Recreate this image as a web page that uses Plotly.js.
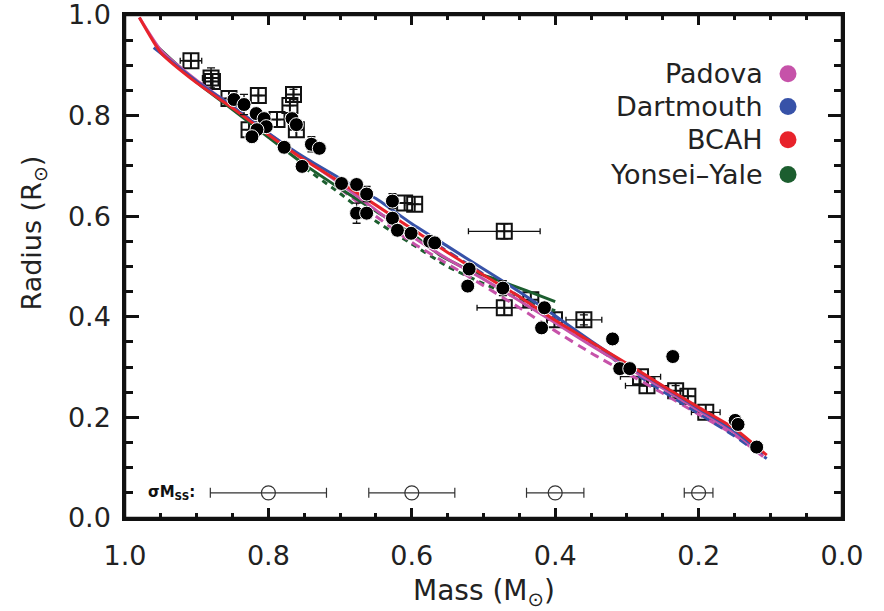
<!DOCTYPE html>
<html>
<head>
<meta charset="utf-8">
<script src="https://cdn.plot.ly/plotly-3.0.1.min.js"></script>
<style>
  html, body { margin: 0; padding: 0; background: #fff; }
  #chart { width: 884px; height: 611px; }
</style>
</head>
<body>
<div id="chart"></div>
<script>
// Observed eclipsing-binary components: filled circles
const circMass = [0.848,0.834,0.817,0.806,0.803,0.816,0.823,0.767,0.761,0.778,0.740,0.729,0.753,0.698,0.677,0.663,0.677,0.663,0.627,0.627,0.620,0.601,0.575,0.568,0.520,0.522,0.473,0.415,0.419,0.320,0.310,0.296,0.236,0.149,0.145,0.119];
const circRad  = [0.832,0.822,0.804,0.794,0.778,0.772,0.758,0.794,0.782,0.737,0.743,0.735,0.699,0.665,0.663,0.644,0.606,0.606,0.630,0.596,0.572,0.566,0.550,0.547,0.495,0.461,0.457,0.418,0.378,0.356,0.297,0.297,0.321,0.194,0.186,0.141];
const circRadErr = [0,0.02,0,0,0,0,0,0,0,0,0.015,0,0,0,0,0.015,0.02,0,0.015,0,0,0,0,0,0,0,0.015,0,0,0,0,0,0,0,0,0];

// Single-star / interferometric measurements: open squares
const sqMass = [0.908,0.880,0.878,0.855,0.814,0.827,0.788,0.765,0.770,0.761,0.610,0.596,0.471,0.471,0.434,0.401,0.360,0.281,0.272,0.232,0.215,0.190];
const sqRad  = [0.909,0.875,0.868,0.834,0.840,0.772,0.792,0.842,0.820,0.772,0.626,0.624,0.570,0.418,0.434,0.394,0.394,0.281,0.263,0.253,0.242,0.210];
const sqMassErr = [0.015,0.012,0,0,0,0,0,0,0,0,0,0,0.05,0.038,0,0,0.025,0.028,0.03,0,0,0.02];
const sqRadErr  = [0,0.02,0,0,0,0,0,0.01,0,0,0,0,0.015,0.015,0,0,0.01,0,0,0.01,0,0];

// Typical mass uncertainty of the single-star sample
const sigMass = [0.8,0.6,0.4,0.2];
const sigErr  = [0.081,0.06,0.04,0.02];
const sigLevel = [0.05,0.05,0.05,0.05];

// Model isochrones
const padovaMass = [0.98,0.95,0.90,0.85,0.80,0.75,0.70,0.65,0.60,0.55,0.50,0.45,0.40,0.35,0.30,0.25,0.20,0.15,0.11];
const padovaRad  = [0.995,0.930,0.870,0.818,0.765,0.714,0.665,0.612,0.560,0.515,0.475,0.432,0.388,0.343,0.300,0.258,0.214,0.170,0.125];
const padovaDMass = [0.70,0.65,0.60,0.55,0.50,0.45,0.40,0.35,0.30,0.25,0.20,0.15,0.11];
const padovaDRad  = [0.655,0.600,0.548,0.505,0.462,0.418,0.372,0.328,0.288,0.248,0.206,0.165,0.122];

const dartMass = [0.96,0.90,0.85,0.80,0.75,0.70,0.65,0.60,0.55,0.50,0.45,0.40,0.35,0.30,0.25,0.20,0.15,0.11];
const dartRad  = [0.935,0.868,0.818,0.765,0.717,0.675,0.635,0.585,0.540,0.495,0.450,0.402,0.352,0.305,0.262,0.218,0.174,0.128];
const dartDMass = [0.60,0.50,0.40,0.35,0.30,0.25,0.20,0.15,0.105];
const dartDRad  = [0.575,0.485,0.395,0.345,0.298,0.252,0.208,0.163,0.118];

const bcahMass = [0.98,0.95,0.90,0.85,0.80,0.75,0.70,0.65,0.60,0.55,0.50,0.45,0.40,0.35,0.30,0.25,0.20,0.15,0.105];
const bcahRad  = [0.995,0.925,0.865,0.815,0.762,0.712,0.668,0.622,0.575,0.528,0.483,0.440,0.393,0.350,0.307,0.263,0.220,0.178,0.125];

const yyMass = [0.955,0.90,0.85,0.80,0.75,0.70,0.65,0.60,0.56,0.52,0.48,0.44,0.40];
const yyRad  = [0.937,0.866,0.812,0.757,0.703,0.655,0.610,0.565,0.522,0.493,0.473,0.452,0.430];
const yyDMass = [0.75,0.70,0.65,0.60,0.55,0.50,0.45,0.40];
const yyDRad  = [0.697,0.645,0.590,0.545,0.500,0.466,0.436,0.412];

const legendNames  = ['Padova','Dartmouth','BCAH','Yonsei\u2013Yale'];
const legendColors = ['#c652a9','#3752a8','#e8232b','#1c5e2f'];

const C_PAD = legendColors[0], C_DART = legendColors[1], C_BCAH = legendColors[2], C_YY = legendColors[3];

function curve(x, y, color, dash) {
  return { x: x, y: y, type: 'scatter', mode: 'lines', hoverinfo: 'skip',
           line: { color: color, width: 3, dash: dash || 'solid', shape: 'spline', smoothing: 0.5 } };
}

const traces = [
  // squares sit underneath the model lines
  { x: sqMass, y: sqRad, type: 'scatter', mode: 'markers',
    error_x: { type: 'data', array: sqMassErr, color: '#111', thickness: 1.3, width: 3 },
    error_y: { type: 'data', array: sqRadErr, color: '#111', thickness: 1.3, width: 4 },
    marker: { symbol: 'square-cross-open', size: 15, color: '#111', line: { width: 2, color: '#111' } } },
  curve(yyDMass, yyDRad, C_YY, '6px,5px'),
  curve(padovaDMass, padovaDRad, C_PAD, '9px,6px'),
  curve(dartDMass, dartDRad, C_DART, '9px,6px'),
  curve(yyMass, yyRad, C_YY),
  curve(padovaMass, padovaRad, C_PAD),
  curve(dartMass, dartRad, C_DART),
  curve(bcahMass, bcahRad, C_BCAH),
  // filled circles on top
  { x: circMass, y: circRad, type: 'scatter', mode: 'markers',
    error_y: { type: 'data', array: circRadErr, color: '#111', thickness: 1.3, width: 4 },
    marker: { symbol: 'circle', size: 14, color: '#000', line: { width: 1, color: '#fff' } } },
  // sigma(M) row
  { x: sigMass, y: sigLevel, type: 'scatter', mode: 'markers',
    error_x: { type: 'data', array: sigErr, color: '#333', thickness: 1.2, width: 5 },
    marker: { symbol: 'circle-open', size: 14, color: '#333', line: { width: 1.2, color: '#333' } } }
];

const FONT = 'DejaVu Sans, Liberation Sans, sans-serif';

const annotations = [
  { xref: 'x', yref: 'y', x: 0.899, y: 0.05, xanchor: 'right', yanchor: 'middle', showarrow: false,
    text: '<b>\u03c3M<sub>SS</sub>:</b>', font: { family: FONT, size: 15, color: '#111' } },
  { xref: 'paper', yref: 'paper', x: 0.5, y: -0.148, xanchor: 'center', yanchor: 'middle', showarrow: false,
    text: 'Mass (M<sub>\u2299</sub>)', font: { family: FONT, size: 28, color: '#222' } },
  { xref: 'paper', yref: 'paper', x: -0.128, y: 0.566, xanchor: 'center', yanchor: 'middle', showarrow: false,
    textangle: -90, text: 'Radius (R<sub>\u2299</sub>)', font: { family: FONT, size: 27, color: '#222' } }
];
const shapes = [
  // plot frame
  { type: 'rect', xref: 'paper', yref: 'paper', x0: 0, x1: 1, y0: 0, y1: 1,
    line: { color: '#111', width: 2.5 }, fillcolor: 'rgba(0,0,0,0)', layer: 'above' }
];
const legY = [0.883, 0.818, 0.752, 0.683];
legendNames.forEach(function (name, i) {
  annotations.push({ xref: 'paper', yref: 'paper', x: 0.8926, y: legY[i], xanchor: 'right', yanchor: 'middle',
    showarrow: false, text: name, font: { family: FONT, size: 27, color: '#222' } });
  shapes.push({ type: 'circle', xref: 'paper', yref: 'paper', xsizemode: 'pixel', ysizemode: 'pixel',
    xanchor: 0.9247, yanchor: legY[i], x0: -8.5, x1: 8.5, y0: -8.5, y1: 8.5,
    fillcolor: legendColors[i], line: { width: 0 } });
});

const layout = {
  width: 884, height: 611,
  margin: { l: 125, r: 42, t: 15, b: 93 },
  paper_bgcolor: '#fff', plot_bgcolor: 'rgba(0,0,0,0)',
  showlegend: false,
  xaxis: {
    range: [1.0, 0.0], tickmode: 'linear', tick0: 0, dtick: 0.2, tickformat: '.1f',
    ticks: 'inside', ticklen: 10, tickwidth: 2.5, tickcolor: '#111',
    showline: true, linecolor: '#111', linewidth: 2.5, mirror: 'allticks',
    showgrid: false, zeroline: false, layer: 'above traces',
    ticklabeloverflow: 'allow', ticklabelstandoff: 12,
    minor: { dtick: 0.05, ticks: 'inside', ticklen: 5, tickwidth: 2.5, tickcolor: '#111' },
    tickfont: { family: FONT, size: 27, color: '#222' }
  },
  yaxis: {
    range: [0.0, 1.0], tickmode: 'linear', tick0: 0, dtick: 0.2, tickformat: '.1f',
    ticks: 'inside', ticklen: 14, tickwidth: 2.5, tickcolor: '#111',
    showline: true, linecolor: '#111', linewidth: 2.5, mirror: 'allticks',
    showgrid: false, zeroline: false, layer: 'above traces',
    ticklabeloverflow: 'allow', ticklabelstandoff: 6,
    minor: { dtick: 0.05, ticks: 'inside', ticklen: 8, tickwidth: 2.5, tickcolor: '#111' },
    tickfont: { family: FONT, size: 27, color: '#222' }
  },
  annotations: annotations,
  shapes: shapes
};

Plotly.newPlot('chart', traces, layout, { displayModeBar: false });
</script>
</body>
</html>
